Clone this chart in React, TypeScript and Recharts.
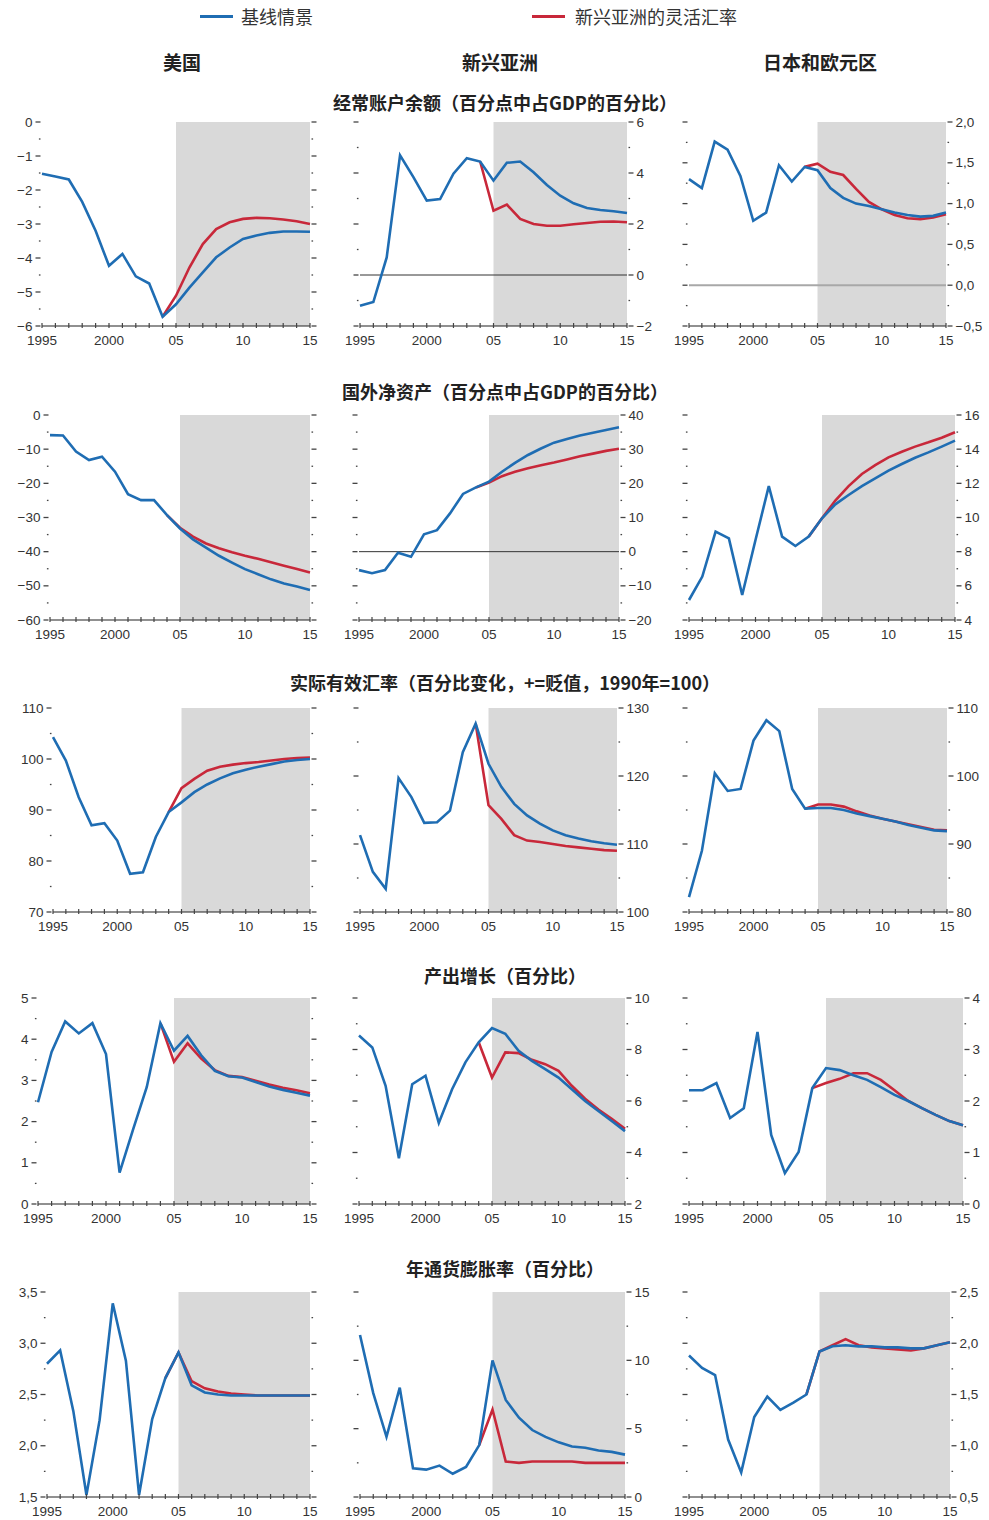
import React from 'react';
import { LineChart, Line, XAxis, YAxis, ReferenceArea, ReferenceLine } from 'recharts';

// years on the x axis, the flexible-rate scenario starts in 2004
const years = [1995, 1996, 1997, 1998, 1999, 2000, 2001, 2002, 2003, 2004, 2005, 2006, 2007, 2008, 2009, 2010, 2011, 2012, 2013, 2014, 2015];
const FLEX_START = 2004;

const legendLabels = ['基线情景', '新兴亚洲的灵活汇率'];
const columnTitles = ['美国', '新兴亚洲', '日本和欧元区'];
const rowTitles = [
  '经常账户余额（百分点中占GDP的百分比）',
  '国外净资产（百分点中占GDP的百分比）',
  '实际有效汇率（百分比变化，+=贬值，1990年=100）',
  '产出增长（百分比）',
  '年通货膨胀率（百分比）',
];

// current account
const usCaBase = [-1.52, -1.6, -1.69, -2.35, -3.2, -4.23, -3.88, -4.54, -4.75, -5.73, -5.36, -4.87, -4.42, -3.98, -3.69, -3.44, -3.34, -3.26, -3.22, -3.22, -3.23];
const usCaFlex = [-5.73, -5.11, -4.28, -3.59, -3.15, -2.95, -2.85, -2.82, -2.83, -2.87, -2.92, -3.0];
const asiaCaBase = [-1.21, -1.06, 0.69, 4.69, 3.84, 2.92, 2.98, 3.97, 4.58, 4.45, 3.7, 4.4, 4.45, 4.03, 3.53, 3.11, 2.81, 2.63, 2.55, 2.5, 2.43];
const asiaCaFlex = [4.45, 2.52, 2.76, 2.2, 2.0, 1.93, 1.93, 1.99, 2.04, 2.09, 2.1, 2.07];
const jeCaBase = [1.3, 1.19, 1.76, 1.66, 1.34, 0.79, 0.89, 1.47, 1.27, 1.45, 1.41, 1.19, 1.07, 1.0, 0.97, 0.93, 0.89, 0.86, 0.84, 0.85, 0.89];
const jeCaFlex = [1.45, 1.49, 1.39, 1.35, 1.18, 1.02, 0.93, 0.86, 0.82, 0.81, 0.83, 0.87];

// net foreign assets
const usNfaBase = [-5.9, -6.0, -10.7, -13.2, -12.2, -16.6, -23.2, -24.9, -24.9, -29.3, -33.2, -36.4, -38.8, -41.2, -43.2, -45.1, -46.6, -48.1, -49.3, -50.2, -51.2];
const usNfaFlex = [-29.3, -33.0, -35.6, -37.6, -39.0, -40.2, -41.2, -42.1, -43.1, -44.1, -45.1, -46.1];
const asiaNfaBase = [-5.4, -6.3, -5.4, -0.3, -1.5, 5.1, 6.3, 11.2, 16.9, 18.8, 20.5, 23.4, 26.0, 28.3, 30.2, 31.9, 33.0, 34.0, 34.8, 35.6, 36.4];
const asiaNfaFlex = [18.8, 20.2, 22.1, 23.4, 24.4, 25.3, 26.1, 27.0, 27.9, 28.7, 29.5, 30.1];
const jeNfaBase = [5.17, 6.54, 9.17, 8.78, 5.46, 8.68, 11.84, 8.88, 8.33, 8.88, 9.95, 10.77, 11.32, 11.84, 12.29, 12.74, 13.13, 13.5, 13.81, 14.15, 14.5];
const jeNfaFlex = [8.88, 9.95, 10.99, 11.84, 12.55, 13.07, 13.52, 13.85, 14.15, 14.4, 14.67, 14.99];

// real effective exchange rate
const usReerBase = [104.3, 99.7, 92.5, 87.0, 87.4, 84.0, 77.5, 77.8, 84.7, 89.6, 91.5, 93.5, 95.0, 96.2, 97.2, 97.9, 98.5, 99.0, 99.5, 99.8, 100.0];
const usReerFlex = [89.6, 94.3, 96.1, 97.7, 98.5, 98.9, 99.2, 99.4, 99.7, 100.0, 100.2, 100.3];
const asiaReerBase = [111.3, 105.9, 103.4, 119.7, 116.9, 113.1, 113.2, 114.9, 123.5, 127.7, 121.8, 118.4, 115.9, 114.2, 113.0, 112.0, 111.3, 110.8, 110.4, 110.1, 109.9];
const asiaReerFlex = [127.7, 115.7, 113.7, 111.3, 110.5, 110.3, 110.0, 109.7, 109.5, 109.3, 109.1, 109.0];
const jeReerBase = [82.2, 89.0, 100.4, 97.8, 98.1, 105.2, 108.2, 106.6, 98.1, 95.2, 95.3, 95.3, 95.0, 94.5, 94.1, 93.7, 93.3, 92.8, 92.4, 92.0, 91.9];
const jeReerFlex = [95.2, 95.8, 95.8, 95.5, 94.8, 94.2, 93.7, 93.3, 92.9, 92.5, 92.1, 92.0];

// output growth
const usGdpBase = [2.47, 3.69, 4.43, 4.14, 4.39, 3.64, 0.76, 1.82, 2.84, 4.39, 3.72, 4.08, 3.61, 3.23, 3.1, 3.07, 2.96, 2.85, 2.77, 2.7, 2.63];
const usGdpFlex = [4.39, 3.45, 3.9, 3.53, 3.25, 3.11, 3.08, 2.99, 2.9, 2.82, 2.76, 2.69];
const asiaGdpBase = [8.54, 8.08, 6.59, 3.78, 6.65, 6.98, 5.15, 6.46, 7.5, 8.28, 8.83, 8.61, 7.95, 7.56, 7.24, 6.91, 6.46, 6.0, 5.61, 5.22, 4.83];
const asiaGdpFlex = [8.28, 6.91, 7.89, 7.86, 7.6, 7.43, 7.17, 6.59, 6.09, 5.67, 5.31, 4.92];
const jeGdpBase = [2.21, 2.21, 2.35, 1.67, 1.86, 3.34, 1.34, 0.6, 1.01, 2.25, 2.64, 2.6, 2.5, 2.41, 2.27, 2.12, 2.0, 1.86, 1.73, 1.61, 1.53];
const jeGdpFlex = [2.25, 2.35, 2.43, 2.54, 2.54, 2.41, 2.21, 2.0, 1.86, 1.73, 1.61, 1.53];

// inflation
const usCpiBase = [2.8, 2.93, 2.34, 1.52, 2.25, 3.39, 2.83, 1.52, 2.26, 2.66, 2.91, 2.59, 2.52, 2.5, 2.49, 2.49, 2.49, 2.49, 2.49, 2.49, 2.49];
const usCpiFlex = [2.66, 2.91, 2.63, 2.56, 2.53, 2.51, 2.5, 2.49, 2.49, 2.49, 2.49, 2.49];
const asiaCpiBase = [11.85, 7.6, 4.4, 8.0, 2.1, 2.0, 2.3, 1.7, 2.2, 3.8, 10.0, 7.1, 5.8, 4.9, 4.4, 4.0, 3.7, 3.6, 3.4, 3.3, 3.1];
const asiaCpiFlex = [3.8, 6.4, 2.6, 2.5, 2.6, 2.6, 2.6, 2.6, 2.5, 2.5, 2.5, 2.5];
const jeCpiBase = [1.88, 1.76, 1.69, 1.06, 0.74, 1.28, 1.48, 1.35, 1.42, 1.5, 1.92, 1.97, 1.98, 1.97, 1.97, 1.96, 1.96, 1.95, 1.95, 1.98, 2.01];
const jeCpiFlex = [1.5, 1.92, 1.98, 2.04, 1.98, 1.96, 1.95, 1.94, 1.93, 1.95, 1.98, 2.01];

// labelled y ticks per panel (a minor tick sits halfway between each pair)
const usCaTicks = [-6, -5, -4, -3, -2, -1, 0];
const asiaCaTicks = [-2, 0, 2, 4, 6];
const jeCaTicks = [-0.5, 0, 0.5, 1, 1.5, 2];
const usNfaTicks = [-60, -50, -40, -30, -20, -10, 0];
const asiaNfaTicks = [-20, -10, 0, 10, 20, 30, 40];
const jeNfaTicks = [4, 6, 8, 10, 12, 14, 16];
const usReerTicks = [70, 80, 90, 100, 110];
const asiaReerTicks = [100, 110, 120, 130];
const jeReerTicks = [80, 90, 100, 110];
const usGdpTicks = [0, 1, 2, 3, 4, 5];
const asiaGdpTicks = [2, 4, 6, 8, 10];
const jeGdpTicks = [0, 1, 2, 3, 4];
const usCpiTicks = [1.5, 2, 2.5, 3, 3.5];
const asiaCpiTicks = [0, 5, 10, 15];
const jeCpiTicks = [0.5, 1, 1.5, 2, 2.5];

const panels = [
  [
    { base: usCaBase, flex: usCaFlex, ticks: usCaTicks },
    { base: asiaCaBase, flex: asiaCaFlex, ticks: asiaCaTicks, zero: 'dark' },
    { base: jeCaBase, flex: jeCaFlex, ticks: jeCaTicks, zero: 'gray' },
  ],
  [
    { base: usNfaBase, flex: usNfaFlex, ticks: usNfaTicks },
    { base: asiaNfaBase, flex: asiaNfaFlex, ticks: asiaNfaTicks, zero: 'dark' },
    { base: jeNfaBase, flex: jeNfaFlex, ticks: jeNfaTicks },
  ],
  [
    { base: usReerBase, flex: usReerFlex, ticks: usReerTicks },
    { base: asiaReerBase, flex: asiaReerFlex, ticks: asiaReerTicks },
    { base: jeReerBase, flex: jeReerFlex, ticks: jeReerTicks },
  ],
  [
    { base: usGdpBase, flex: usGdpFlex, ticks: usGdpTicks },
    { base: asiaGdpBase, flex: asiaGdpFlex, ticks: asiaGdpTicks },
    { base: jeGdpBase, flex: jeGdpFlex, ticks: jeGdpTicks },
  ],
  [
    { base: usCpiBase, flex: usCpiFlex, ticks: usCpiTicks },
    { base: asiaCpiBase, flex: asiaCpiFlex, ticks: asiaCpiTicks },
    { base: jeCpiBase, flex: jeCpiFlex, ticks: jeCpiTicks },
  ],
];

// layout: plot boxes in page pixels
const rowY = [[122, 326], [415, 620], [708, 912], [998, 1204], [1292, 1497]];
const rowTitleY = [102, 391, 682, 975, 1268];
const plotX = [
  [[42, 310], [360, 627], [689, 946]],
  [[50, 310], [359, 619], [689, 955]],
  [[53, 310], [360, 617], [689, 947]],
  [[38, 310], [359, 625], [689, 963]],
  [[47, 310], [360, 625], [689, 950]],
];

const BLUE = '#1f6db3';
const RED = '#c8283a';
const SHADE = '#d9d9d9';
const NUM_FONT = "'Liberation Sans', Arial, sans-serif";
const CJK_FONT = "'Noto Sans CJK SC', 'Noto Sans', sans-serif";
const TS = 5;
const TM = 4;
const AX = 40;
const PT = 8;
const XH = 26;

const fmt = (v, dec) => (v < 0 ? '\u2212' : '') + Math.abs(v).toFixed(dec).replace('.', ',');

const withMinor = (major) => {
  const out = [];
  major.forEach((v, i) => {
    out.push(v);
    if (i < major.length - 1) out.push((v + major[i + 1]) / 2);
  });
  return out;
};

const yearLabel = (yr) => (yr % 5 !== 0 ? null : yr <= 2000 ? String(yr) : String(yr % 100).padStart(2, '0'));

function Panel({ box, yRange, cfg, labelSide }) {
  const [x0, x1] = box;
  const [y0, y1] = yRange;
  const w = x1 - x0 + AX * 2 + 2;
  const h = y1 - y0 + PT + XH + 2;
  const rows = years.map((yr, i) => ({
    year: yr,
    base: cfg.base[i],
    flex: yr >= FLEX_START ? cfg.flex[yr - FLEX_START] : null,
  }));
  const major = cfg.ticks;
  const dec = major.some((v) => !Number.isInteger(v)) ? 1 : 0;
  const majorSet = new Set(major);
  const all = withMinor(major);
  const domain = [Math.min(...major), Math.max(...major)];
  const otherSide = labelSide === 'left' ? 'right' : 'left';

  const yTick = (side, showLabel) => (p) => {
    const v = p.payload.value;
    const isMajor = majorSet.has(v);
    const dir = side === 'left' ? -1 : 1;
    const ax = side === 'left' ? p.x + TS + TM : p.x - TS - TM;
    const len = isMajor ? 5 : 1.6;
    return (
      <g>
        <line x1={ax + dir * 1.5} x2={ax + dir * (1.5 + len)} y1={p.y} y2={p.y} stroke="#444" strokeWidth={1.3} />
        {showLabel && isMajor && (
          <text x={ax + dir * 9.5} y={p.y} dy={4.6} textAnchor={side === 'left' ? 'end' : 'start'}
            fontSize={13.5} fontFamily={NUM_FONT} fill="#333">{fmt(v, dec)}</text>
        )}
      </g>
    );
  };

  const xTick = (p) => {
    const yr = p.payload.value;
    const ax = p.y - TS - TM;
    const label = yearLabel(yr);
    return (
      <g>
        <line x1={p.x} x2={p.x} y1={ax - 3} y2={ax + 2} stroke="#444" strokeWidth={1.2} />
        {label && (
          <text x={p.x} y={ax + 19} textAnchor="middle" fontSize={13.5} fontFamily={NUM_FONT} fill="#333">{label}</text>
        )}
      </g>
    );
  };

  return (
    <div style={{ position: 'absolute', left: x0 - AX - 1, top: y0 - PT }}>
      <LineChart width={w} height={h} data={rows} margin={{ top: PT, right: 1, bottom: 2, left: 1 }}>
        <XAxis dataKey="year" type="number" domain={[1995, 2015]} ticks={years} interval={0}
          height={XH} tickSize={TS} tickMargin={TM} tickLine={false}
          axisLine={{ stroke: '#222', strokeWidth: 1.2 }} tick={xTick} />
        <YAxis yAxisId="a" orientation={labelSide} type="number" domain={domain} ticks={all} interval={0}
          width={AX} tickSize={TS} tickMargin={TM} tickLine={false} axisLine={false}
          tick={yTick(labelSide, true)} allowDataOverflow />
        <YAxis yAxisId="b" orientation={otherSide} type="number" domain={domain} ticks={all} interval={0}
          width={AX} tickSize={TS} tickMargin={TM} tickLine={false} axisLine={false}
          tick={yTick(otherSide, false)} allowDataOverflow />
        <ReferenceArea yAxisId="a" x1={2005} x2={2015} fill={SHADE} fillOpacity={1} stroke="none" />
        {cfg.zero === 'dark' && <ReferenceLine yAxisId="a" y={0} stroke="#333" strokeWidth={1} />}
        {cfg.zero === 'gray' && <ReferenceLine yAxisId="a" y={0} stroke="#a8a8a8" strokeWidth={2} />}
        <Line yAxisId="a" type="linear" dataKey="flex" stroke={RED} strokeWidth={2.6} dot={false}
          activeDot={false} isAnimationActive={false} />
        <Line yAxisId="a" type="linear" dataKey="base" stroke={BLUE} strokeWidth={2.6} dot={false}
          activeDot={false} isAnimationActive={false} />
      </LineChart>
    </div>
  );
}

const centered = (x, y, text, style) => (
  <div key={text} style={{
    position: 'absolute', left: x, top: y, transform: 'translate(-50%, -50%)',
    whiteSpace: 'nowrap', lineHeight: 1, fontFamily: CJK_FONT, color: '#222', ...style,
  }}>{text}</div>
);

export default function App() {
  const colX = [182, 500, 820];
  return (
    <div style={{ position: 'absolute', left: 0, top: 0, width: 989, height: 1520, background: '#fff', overflow: 'hidden' }}>
      {/* legend */}
      <div style={{ position: 'absolute', left: 200, top: 15, width: 33, height: 3, background: BLUE }} />
      <div style={{ position: 'absolute', left: 241, top: 7, fontSize: 18, lineHeight: 1, fontFamily: CJK_FONT, color: '#333' }}>{legendLabels[0]}</div>
      <div style={{ position: 'absolute', left: 532, top: 15, width: 33, height: 3, background: RED }} />
      <div style={{ position: 'absolute', left: 575, top: 7, fontSize: 18, lineHeight: 1, fontFamily: CJK_FONT, color: '#333' }}>{legendLabels[1]}</div>

      {columnTitles.map((t, i) => centered(colX[i], 61, t, { fontSize: 19, fontWeight: 700 }))}
      {rowTitles.map((t, i) => centered(505, rowTitleY[i], t, { fontSize: 18, fontWeight: 700 }))}

      {panels.map((row, r) =>
        row.map((cfg, c) => (
          <Panel key={`${r}-${c}`} box={plotX[r][c]} yRange={rowY[r]} cfg={cfg} labelSide={c === 0 ? 'left' : 'right'} />
        ))
      )}
    </div>
  );
}
